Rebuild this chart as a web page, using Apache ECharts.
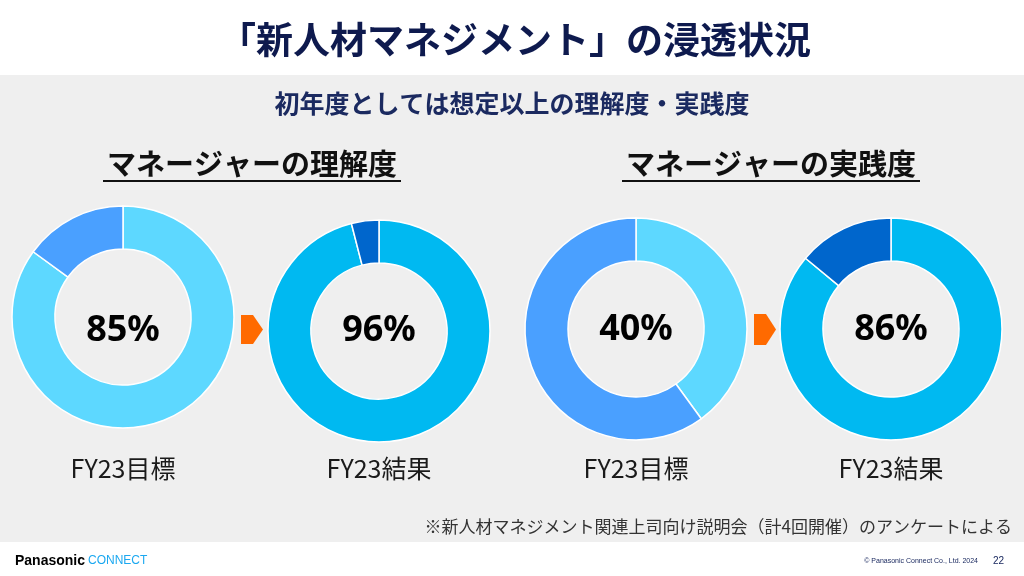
<!DOCTYPE html>
<html>
<head>
<meta charset="utf-8">
<script src="https://cdn.jsdelivr.net/npm/echarts@6/dist/echarts.min.js"></script>
<style>
html,body{margin:0;padding:0;background:#fff;}
#chart{width:1024px;height:576px;}
</style>
</head>
<body>
<div id="chart"></div>
<script>
const pageTitle = '「新人材マネジメント」の浸透状況';
const subTitle = '初年度としては想定以上の理解度・実践度';
const sectionTitles = ['マネージャーの理解度', 'マネージャーの実践度'];
const donutLabels = ['FY23目標', 'FY23結果', 'FY23目標', 'FY23結果'];
const achieved = [85, 96, 40, 86];
const remaining = [15, 4, 60, 14];
const footnote = '※新人材マネジメント関連上司向け説明会（計4回開催）のアンケートによる';

const JP = '"Noto Sans CJK JP", "Noto Sans", sans-serif';
const centers = [[123, 317], [379, 331], [636, 329], [891, 329]];
const textY = [331, 331, 330, 330];
const colorPairs = [
  ['#5DD8FF', '#4AA0FF'],
  ['#00B9F1', '#0066CC'],
  ['#5DD8FF', '#4AA0FF'],
  ['#00B9F1', '#0066CC']
];

const chart = echarts.init(document.getElementById('chart'), null, {renderer: 'canvas'});

const series = achieved.map((v, i) => ({
  type: 'pie',
  center: centers[i],
  radius: [68, 111],
  startAngle: 90,
  clockwise: true,
  silent: true,
  label: {show: false},
  labelLine: {show: false},
  itemStyle: {borderColor: '#ffffff', borderWidth: 1.5},
  data: [
    {value: v, name: 'yes', itemStyle: {color: colorPairs[i][0]}},
    {value: remaining[i], name: 'no', itemStyle: {color: colorPairs[i][1]}}
  ]
}));

const graphics = [
  {type: 'rect', z: -10, shape: {x: 0, y: 75, width: 1024, height: 467}, style: {fill: '#EFEFEF'}},
  {type: 'text', x: 515, y: 40, style: {text: pageTitle, font: 'bold 37px ' + JP, fill: '#0E1A4E', align: 'center', verticalAlign: 'middle'}},
  {type: 'text', x: 512, y: 103, style: {text: subTitle, font: 'bold 25px ' + JP, fill: '#1B2A60', align: 'center', verticalAlign: 'middle'}},
  {type: 'text', x: 1012, y: 527, style: {text: footnote, font: '17px ' + JP, fill: '#333333', align: 'right', verticalAlign: 'middle'}},
  {type: 'text', x: 15, y: 561, style: {text: 'Panasonic', font: 'bold 14px "Liberation Sans", Arial, sans-serif', fill: '#000000', align: 'left', verticalAlign: 'middle'}},
  {type: 'text', x: 88, y: 561, style: {text: 'CONNECT', font: '12px "Liberation Sans", Arial, sans-serif', fill: '#1BA8F0', align: 'left', verticalAlign: 'middle'}},
  {type: 'text', x: 978, y: 561, style: {text: '© Panasonic Connect Co., Ltd. 2024', font: '7px "Liberation Sans", Arial, sans-serif', fill: '#1B2A60', align: 'right', verticalAlign: 'middle'}},
  {type: 'text', x: 1004, y: 561, style: {text: '22', font: '10px "Liberation Sans", Arial, sans-serif', fill: '#1B2A60', align: 'right', verticalAlign: 'middle'}}
];

const sectionX = [252, 771];
sectionTitles.forEach((t, i) => {
  graphics.push({type: 'text', x: sectionX[i], y: 164, style: {text: t, font: 'bold 29px ' + JP, fill: '#111111', align: 'center', verticalAlign: 'middle'}});
  graphics.push({type: 'line', shape: {x1: sectionX[i] - 149, y1: 181, x2: sectionX[i] + 149, y2: 181}, style: {stroke: '#111111', lineWidth: 2}});
});

achieved.forEach((v, i) => {
  graphics.push({type: 'text', x: centers[i][0], y: textY[i], style: {text: v + '%', font: 'bold 36px "Noto Sans", sans-serif', fill: '#000000', align: 'center', verticalAlign: 'middle'}});
  graphics.push({type: 'text', x: centers[i][0], y: 468, style: {text: donutLabels[i], font: '25px ' + JP, fill: '#1A1A1A', align: 'center', verticalAlign: 'middle'}});
});

const arrows = [[241, 315, 344], [754, 314, 345]];
arrows.forEach(a => {
  const [x, y1, y2] = a;
  const mid = (y1 + y2) / 2;
  graphics.push({type: 'polygon', shape: {points: [[x, y1], [x + 12, y1], [x + 22, mid], [x + 12, y2], [x, y2]]}, style: {fill: '#FF6A00'}});
});

chart.setOption({
  animation: false,
  backgroundColor: '#ffffff',
  series: series,
  graphic: graphics
});
</script>
</body>
</html>
